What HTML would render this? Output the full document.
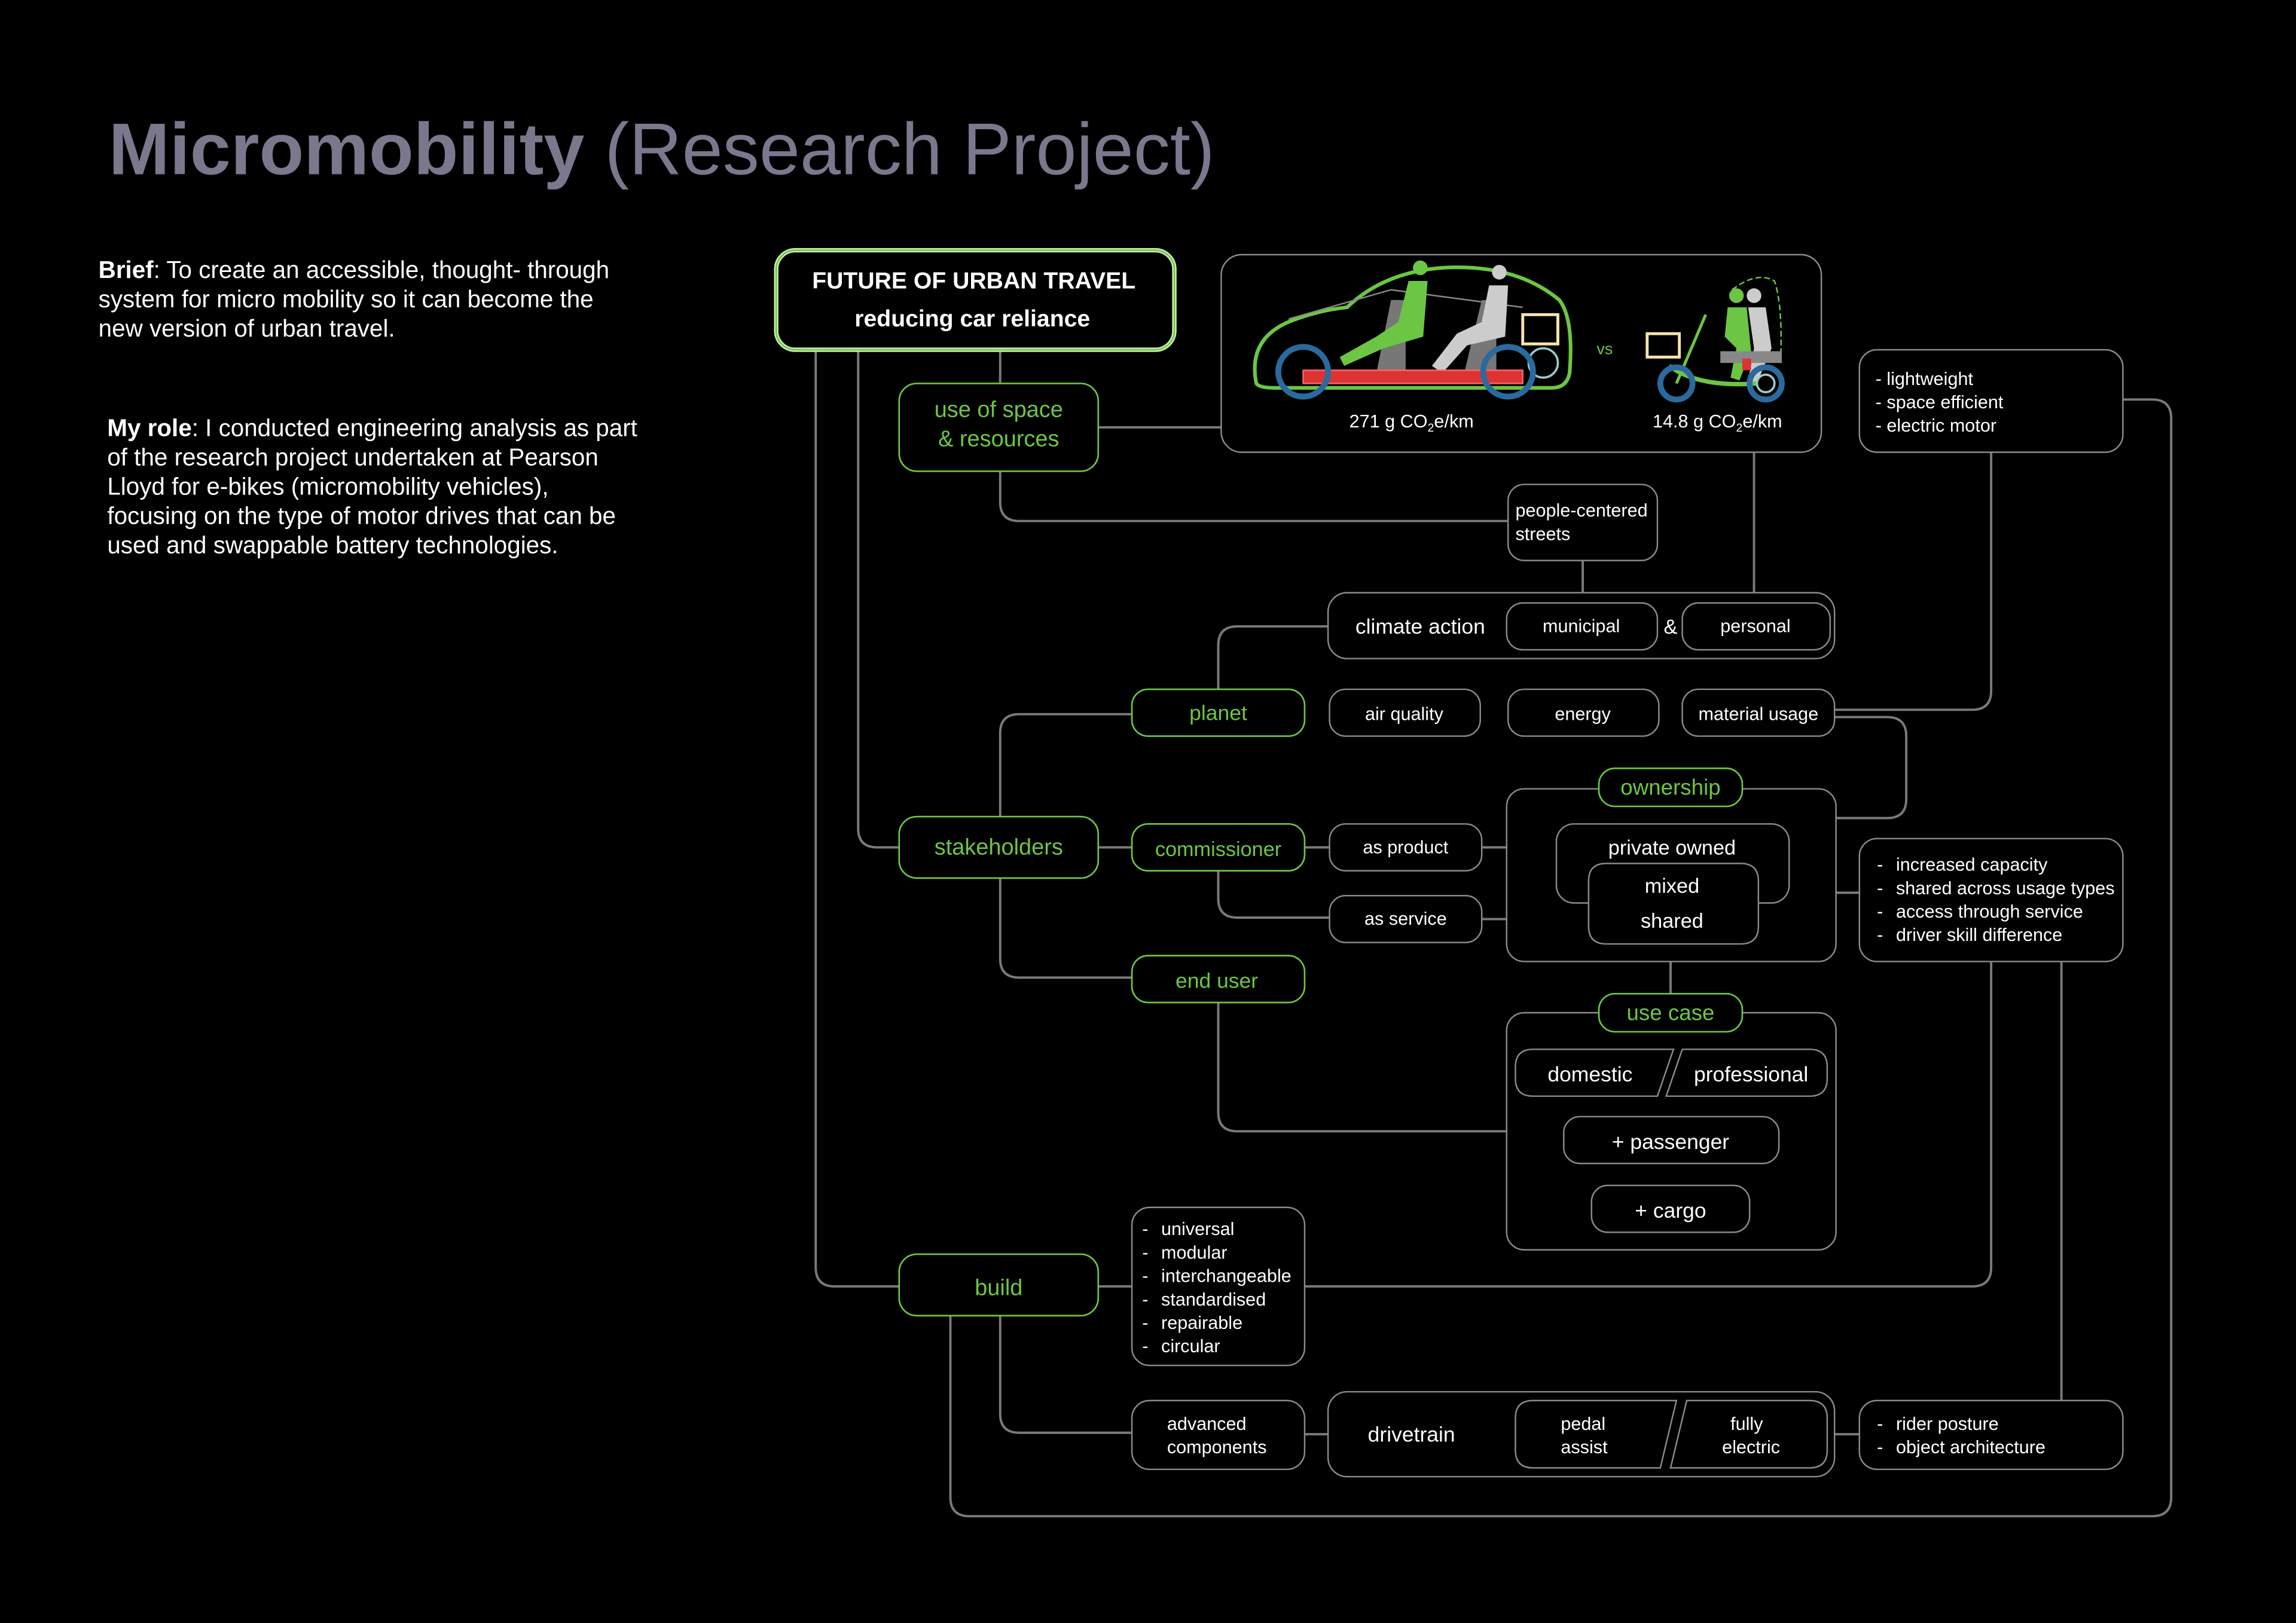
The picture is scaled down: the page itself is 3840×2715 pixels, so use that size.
<!DOCTYPE html>
<html><head><meta charset="utf-8"><style>
html,body{margin:0;padding:0;background:#000;width:3840px;height:2715px;overflow:hidden}
svg{display:block}
text{font-family:"Liberation Sans",sans-serif;fill:#fff}
.g{fill:#6cc644}
.n{fill:#000;stroke:#8a8a8a;stroke-width:1}
.gn{fill:#000;stroke:#6cc644;stroke-width:1.1}
.l{fill:none;stroke:#7a7a7a;stroke-width:1.6}
</style></head><body>
<svg width="3840" height="2715" viewBox="0 0 1568 1109" xmlns="http://www.w3.org/2000/svg">
<rect width="1568" height="1109" fill="#000"/>
<text x="74" y="119" font-size="50" style="fill:#7b778c"><tspan font-weight="bold">Micromobility</tspan><tspan> (Research Project)</tspan></text>
<g font-size="16.5">
<text x="67" y="190"><tspan font-weight="bold">Brief</tspan>: To create an accessible, thought- through</text>
<text x="67" y="210">system for micro mobility so it can become the</text>
<text x="67" y="230">new version of urban travel.</text>
<text x="73" y="298"><tspan font-weight="bold">My role</tspan>: I  conducted engineering analysis as part</text>
<text x="73" y="318">of the research project undertaken at Pearson</text>
<text x="73" y="338">Lloyd for e-bikes (micromobility vehicles),</text>
<text x="73" y="358">focusing on the type of motor drives that can be</text>
<text x="73" y="378">used and swappable battery technologies.</text>
</g>

<!-- connectors -->
<path class="l" d="M557 240 V866 Q557 879 570 879 H614"/>
<path class="l" d="M586 240 V566 Q586 579 599 579 H614"/>
<path class="l" d="M683 240 V262"/>
<path class="l" d="M750 292 H834"/>
<path class="l" d="M683 322 V343 Q683 356 696 356 H1030"/>
<path class="l" d="M1081 383 V412"/>
<path class="l" d="M1198 309 V412"/>
<path class="l" d="M1360 309 V472 Q1360 485 1347 485 H1253"/>
<path class="l" d="M1253 490 H1289 Q1302 490 1302 503 V546 Q1302 559 1289 559 H1254"/>
<path class="l" d="M907 428 H845 Q832 428 832 441 V471"/>
<path class="l" d="M773 488 H696 Q683 488 683 501 V558"/>
<path class="l" d="M683 600 V655 Q683 668 696 668 H773"/>
<path class="l" d="M750 579 H773"/>
<path class="l" d="M891 579 H908"/>
<path class="l" d="M1012 579 H1063"/>
<path class="l" d="M832 595 V614 Q832 627 845 627 H908"/>
<path class="l" d="M1012 628 H1085"/>
<path class="l" d="M1141 657 V679"/>
<path class="l" d="M832 685 V760 Q832 773 845 773 H1029"/>
<path class="l" d="M1254 610 H1270"/>
<path class="l" d="M750 879 H773"/>
<path class="l" d="M891 879 H1347 Q1360 879 1360 866 V657"/>
<path class="l" d="M1408 657 V957"/>
<path class="l" d="M683 899 V966 Q683 979 696 979 H773"/>
<path class="l" d="M891 980 H907"/>
<path class="l" d="M1253 980 H1270"/>
<path class="l" d="M649 899 V1023 Q649 1036 662 1036 H1470 Q1483 1036 1483 1023 V286 Q1483 273 1470 273 H1450"/>

<!-- future -->
<rect x="530" y="171" width="272" height="68" rx="13" fill="#000" stroke="#c8f0b0" stroke-width="3"/>
<rect x="530" y="171" width="272" height="68" rx="13" fill="none" stroke="#6cc644" stroke-width="1"/>
<text x="665" y="197" font-size="16" font-weight="bold" text-anchor="middle">FUTURE OF URBAN TRAVEL</text>
<text x="664" y="223" font-size="16" font-weight="bold" text-anchor="middle">reducing car reliance</text>

<!-- car box -->
<rect class="n" x="834" y="174" width="410" height="135" rx="14" stroke-width="1.6" stroke="#7a7a7a"/>
<g>
<path d="M858 262 Q852 232 880 220 Q900 212 920 210 Q945 186 985 183 Q1035 180 1065 205 Q1075 218 1072 255 Q1070 265 1060 265 H870 Q860 265 858 262Z" fill="none" stroke="#6cc644" stroke-width="2.5"/>
<path d="M880 218 L950 198 L1040 210" fill="none" stroke="#888" stroke-width="1"/>
<path d="M940 255 L950 205 L960 205 L960 255Z" fill="#777"/>
<path d="M1000 255 L1012 205 L1022 205 L1022 255Z" fill="#777"/>
<circle cx="970" cy="183" r="5" fill="#6cc644"/>
<path d="M962 192 L975 192 L972 230 L945 238 L918 250 L915 244 L940 230 L955 220Z" fill="#6cc644"/>
<circle cx="1024" cy="186" r="5" fill="#ccc"/>
<path d="M1017 195 L1030 195 L1028 230 L1002 236 L985 255 L978 250 L995 228 L1012 220Z" fill="#ccc"/>
<rect x="1040" y="215" width="24" height="20" fill="none" stroke="#f5e6a8" stroke-width="2"/>
<circle cx="1054" cy="248" r="10" fill="none" stroke="#9cc" stroke-width="1.5"/>
<rect x="890" y="253" width="150" height="9" fill="#d33" stroke="#f66" stroke-width="1"/>
<circle cx="890" cy="254" r="17" fill="none" stroke="#2a6a9e" stroke-width="4"/>
<circle cx="1030" cy="254" r="17" fill="none" stroke="#2a6a9e" stroke-width="4"/>
<path d="M1183 198 Q1200 185 1212 192 Q1218 210 1216 250" fill="none" stroke="#6cc644" stroke-width="1" stroke-dasharray="4 2"/>
<rect x="1125" y="228" width="22" height="16" fill="none" stroke="#f5e6a8" stroke-width="2"/>
<circle cx="1186" cy="202" r="5" fill="#6cc644"/><circle cx="1198" cy="202" r="5" fill="#ccc"/>
<path d="M1180 210 L1193 210 L1196 240 L1188 260 L1182 258 L1186 238 L1178 230Z" fill="#6cc644"/>
<path d="M1194 210 L1206 210 L1210 238 L1200 262 L1194 260 L1198 238Z" fill="#ccc"/>
<rect x="1175" y="240" width="42" height="8" fill="#888"/>
<path d="M1140 250 Q1160 265 1200 262" fill="none" stroke="#6cc644" stroke-width="3"/>
<line x1="1145" y1="262" x2="1165" y2="215" stroke="#6cc644" stroke-width="2"/>
<circle cx="1145" cy="262" r="11" fill="none" stroke="#2a6a9e" stroke-width="4"/>
<circle cx="1206" cy="262" r="11" fill="none" stroke="#2a6a9e" stroke-width="4"/>
<circle cx="1206" cy="262" r="6" fill="none" stroke="#9cc" stroke-width="1.5"/>
<rect x="1190" y="245" width="6" height="8" fill="#d33"/>
</g>
<text x="1096" y="242" font-size="11" class="g" text-anchor="middle">vs</text>
<text x="964" y="292" font-size="12.5" text-anchor="middle">271 g CO<tspan font-size="8" dy="3">2</tspan><tspan dy="-3">e/km</tspan></text>
<text x="1173" y="292" font-size="12.5" text-anchor="middle">14.8 g CO<tspan font-size="8" dy="3">2</tspan><tspan dy="-3">e/km</tspan></text>

<!-- nodes -->
<rect class="gn" x="614" y="262" width="136" height="60" rx="12"/>
<text x="682" y="285" font-size="15.5" class="g" text-anchor="middle">use of space</text>
<text x="682" y="305" font-size="15.5" class="g" text-anchor="middle">&amp; resources</text>

<rect class="n" x="1270" y="239" width="180" height="70" rx="12"/>
<text x="1281" y="263" font-size="12.5">- lightweight</text>
<text x="1281" y="279" font-size="12.5">- space efficient</text>
<text x="1281" y="295" font-size="12.5">- electric motor</text>

<rect class="n" x="1030" y="331" width="102" height="52" rx="11"/>
<text x="1035" y="353" font-size="12.5">people-centered</text>
<text x="1035" y="369" font-size="12.5">streets</text>

<rect class="n" x="907" y="405" width="346" height="45" rx="13"/>
<text x="970" y="433" font-size="14.5" text-anchor="middle">climate action</text>
<rect class="n" x="1029" y="412" width="103" height="32" rx="11"/>
<text x="1080" y="432" font-size="12.5" text-anchor="middle">municipal</text>
<text x="1141" y="433" font-size="14" text-anchor="middle">&amp;</text>
<rect class="n" x="1149" y="412" width="101" height="32" rx="11"/>
<text x="1199" y="432" font-size="12.5" text-anchor="middle">personal</text>

<rect class="gn" x="773" y="471" width="118" height="32" rx="11"/>
<text x="832" y="492" font-size="14.5" class="g" text-anchor="middle">planet</text>
<rect class="n" x="908" y="471" width="103" height="32" rx="11"/>
<text x="959" y="492" font-size="12.5" text-anchor="middle">air quality</text>
<rect class="n" x="1030" y="471" width="103" height="32" rx="11"/>
<text x="1081" y="492" font-size="12.5" text-anchor="middle">energy</text>
<rect class="n" x="1149" y="471" width="104" height="32" rx="11"/>
<text x="1201" y="492" font-size="12.5" text-anchor="middle">material usage</text>

<rect class="n" x="1029" y="539" width="225" height="118" rx="12"/>
<rect class="gn" x="1092" y="525" width="98" height="26" rx="11"/>
<text x="1141" y="543" font-size="15" class="g" text-anchor="middle">ownership</text>
<rect class="n" x="1063" y="563" width="159" height="54" rx="12"/>
<text x="1142" y="584" font-size="14" text-anchor="middle">private owned</text>
<path class="n" d="M1085 617 V602 Q1085 590 1097 590 H1189 Q1201 590 1201 602 V633 Q1201 645 1189 645 H1097 Q1085 645 1085 633Z" fill="none"/>
<text x="1142" y="610" font-size="14" text-anchor="middle">mixed</text>
<text x="1142" y="634" font-size="14" text-anchor="middle">shared</text>

<rect class="gn" x="614" y="558" width="136" height="42" rx="12"/>
<text x="682" y="584" font-size="15.5" class="g" text-anchor="middle">stakeholders</text>
<rect class="gn" x="773" y="563" width="118" height="32" rx="11"/>
<text x="832" y="585" font-size="14" class="g" text-anchor="middle">commissioner</text>
<rect class="n" x="908" y="563" width="104" height="32" rx="11"/>
<text x="960" y="583" font-size="12.5" text-anchor="middle">as product</text>
<rect class="n" x="908" y="612" width="104" height="32" rx="11"/>
<text x="960" y="632" font-size="12.5" text-anchor="middle">as service</text>

<rect class="n" x="1270" y="573" width="180" height="84" rx="12"/>
<g font-size="12.5">
<text x="1282" y="595">-</text><text x="1295" y="595">increased capacity</text>
<text x="1282" y="611">-</text><text x="1295" y="611">shared across usage types</text>
<text x="1282" y="627">-</text><text x="1295" y="627">access through service</text>
<text x="1282" y="643">-</text><text x="1295" y="643">driver skill difference</text>
</g>

<rect class="gn" x="773" y="653" width="118" height="32" rx="11"/>
<text x="831" y="675" font-size="14.5" class="g" text-anchor="middle">end user</text>

<rect class="n" x="1029" y="692" width="225" height="162" rx="12"/>
<rect class="gn" x="1092" y="679" width="98" height="26" rx="11"/>
<text x="1141" y="697" font-size="15" class="g" text-anchor="middle">use case</text>
<path class="n" d="M1047 717 H1143 L1132 749 H1047 Q1035 749 1035 737 V729 Q1035 717 1047 717Z"/>
<text x="1086" y="739" font-size="14.5" text-anchor="middle">domestic</text>
<path class="n" d="M1149 717 H1236 Q1248 717 1248 729 V737 Q1248 749 1236 749 H1138Z"/>
<text x="1196" y="739" font-size="14.5" text-anchor="middle">professional</text>
<rect class="n" x="1068" y="763" width="147" height="32" rx="11"/>
<text x="1141" y="785" font-size="14.5" text-anchor="middle">+ passenger</text>
<rect class="n" x="1087" y="810" width="108" height="32" rx="11"/>
<text x="1141" y="832" font-size="14.5" text-anchor="middle">+ cargo</text>

<rect class="gn" x="614" y="857" width="136" height="42" rx="12"/>
<text x="682" y="885" font-size="15.5" class="g" text-anchor="middle">build</text>
<rect class="n" x="773" y="825" width="118" height="108" rx="12"/>
<g font-size="12.5">
<text x="780" y="844">-</text><text x="793" y="844">universal</text>
<text x="780" y="860">-</text><text x="793" y="860">modular</text>
<text x="780" y="876">-</text><text x="793" y="876">interchangeable</text>
<text x="780" y="892">-</text><text x="793" y="892">standardised</text>
<text x="780" y="908">-</text><text x="793" y="908">repairable</text>
<text x="780" y="924">-</text><text x="793" y="924">circular</text>
</g>

<rect class="n" x="773" y="957" width="118" height="47" rx="12"/>
<text x="797" y="977" font-size="12.5">advanced</text>
<text x="797" y="993" font-size="12.5">components</text>
<rect class="n" x="907" y="951" width="346" height="58" rx="13"/>
<text x="964" y="985" font-size="14.5" text-anchor="middle">drivetrain</text>
<path class="n" d="M1047 957 H1145 L1134 1003 H1047 Q1035 1003 1035 991 V969 Q1035 957 1047 957Z"/>
<text x="1066" y="977" font-size="12.5">pedal</text>
<text x="1066" y="993" font-size="12.5">assist</text>
<path class="n" d="M1152 957 H1236 Q1248 957 1248 969 V991 Q1248 1003 1236 1003 H1141Z"/>
<text x="1193" y="977" font-size="12.5" text-anchor="middle">fully</text>
<text x="1196" y="993" font-size="12.5" text-anchor="middle">electric</text>

<rect class="n" x="1270" y="957" width="180" height="47" rx="12"/>
<text x="1282" y="977" font-size="12.5">-</text><text x="1295" y="977" font-size="12.5">rider posture</text>
<text x="1282" y="993" font-size="12.5">-</text><text x="1295" y="993" font-size="12.5">object architecture</text>
</svg>
</body></html>
